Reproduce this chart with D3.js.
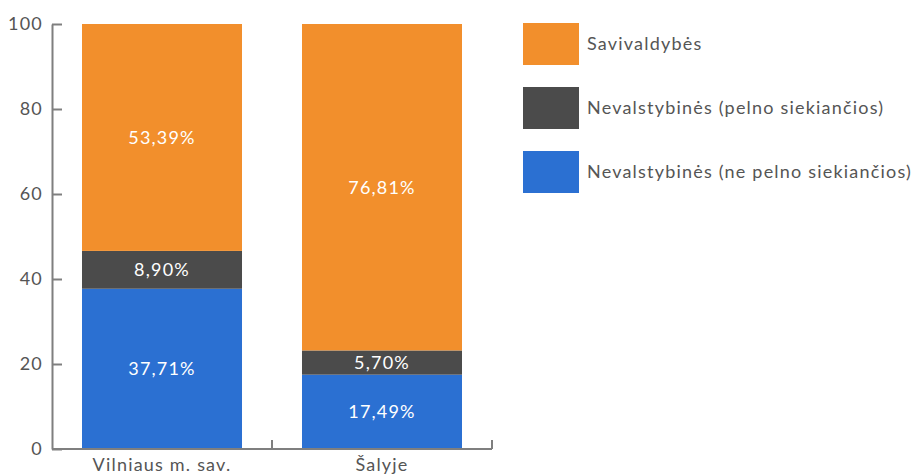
<!DOCTYPE html>
<html>
<head>
<meta charset="utf-8">
<script src="https://cdn.jsdelivr.net/npm/d3@7"></script>
<style>
  body { margin: 0; background: #fff; font-family: Lato, "Open Sans", sans-serif; }
  text { letter-spacing: 1.2px; }
</style>
</head>
<body>
<div id="chart-area"></div>
<script>
// data
var categories = ["Vilniaus m. sav.", "Šalyje"];
var seriesNames = ["Nevalstybinės (ne pelno siekiančios)", "Nevalstybinės (pelno siekiančios)", "Savivaldybės"];
var nePelno = [37.71, 17.49];
var pelno = [8.90, 5.70];
var savivaldybes = [53.39, 76.81];
var yTicks = [0, 20, 40, 60, 80, 100];

var colors = ["#2b70d2", "#4b4b4b", "#f28f2c"];

var width = 922, height = 474;
var margin = {left: 52, top: 24, bottom: 25};
var plotRight = 492;

var svg = d3.select("#chart-area")
    .append("svg")
      .attr("width", width)
      .attr("height", height);

var rows = categories.map(function(c, i){
    return {cat: c, s0: nePelno[i], s1: pelno[i], s2: savivaldybes[i]};
});
var stack = d3.stack().keys(["s0", "s1", "s2"]);
var layers = stack(rows);

var x = d3.scaleBand()
    .domain(categories)
    .range([margin.left, plotRight])
    .paddingInner(0.2727)
    .paddingOuter(0.1364);

var y = d3.scaleLinear()
    .domain([0, 100])
    .range([height - margin.bottom, margin.top]);

// bars
layers.forEach(function(layer, li){
    svg.append("g")
      .selectAll("rect")
      .data(layer)
      .enter()
      .append("rect")
        .attr("x", function(d){ return x(d.data.cat); })
        .attr("y", function(d){ return y(d[1]); })
        .attr("width", x.bandwidth())
        .attr("height", function(d){ return y(d[0]) - y(d[1]); })
        .attr("fill", colors[li]);

    svg.append("g")
      .selectAll("text")
      .data(layer)
      .enter()
      .append("text")
        .attr("x", function(d){ return x(d.data.cat) + x.bandwidth()/2; })
        .attr("y", function(d){ return (y(d[0]) + y(d[1]))/2; })
        .attr("dy", "0.36em")
        .attr("text-anchor", "middle")
        .attr("fill", "#fff")
        .attr("font-size", "18px")
        .text(function(d){ return (d[1]-d[0]).toFixed(2).replace(".", ",") + "%"; });
});

// y axis
var yAxis = d3.axisRight(y).tickValues(yTicks).tickSize(10).tickSizeOuter(0);
var gy = svg.append("g")
    .attr("transform", "translate(" + margin.left + ",0)")
    .call(yAxis);
gy.select(".domain").attr("stroke", "#7f7f7f").attr("stroke-width", 2);
gy.selectAll(".tick line").attr("stroke", "#7f7f7f").attr("stroke-width", 2);
gy.selectAll(".tick text")
    .attr("x", -9)
    .attr("text-anchor", "end")
    .attr("fill", "#555")
    .attr("font-size", "18px")
    .attr("font-family", "Lato, sans-serif");

// x axis
var gx = svg.append("g")
    .attr("transform", "translate(0," + y(0) + ")");
gx.append("line")
    .attr("x1", margin.left).attr("x2", plotRight)
    .attr("stroke", "#7f7f7f").attr("stroke-width", 2);
var sepTicks = [x.step() + margin.left, plotRight];
gx.selectAll("line.sep")
    .data(sepTicks)
    .enter()
    .append("line")
      .attr("class", "sep")
      .attr("x1", function(d){ return d; }).attr("x2", function(d){ return d; })
      .attr("y1", 0).attr("y2", -9)
      .attr("stroke", "#7f7f7f").attr("stroke-width", 2);
gx.selectAll("text")
    .data(categories)
    .enter()
    .append("text")
      .attr("x", function(d){ return x(d) + x.bandwidth()/2; })
      .attr("y", 22)
      .attr("text-anchor", "middle")
      .attr("fill", "#555")
      .attr("font-size", "18px")
      .text(function(d){ return d; });

// legend
var legendOrder = [2, 1, 0];
var legend = svg.append("g").attr("transform", "translate(523,23)");
legend.selectAll("g")
    .data(legendOrder)
    .enter()
    .append("g")
      .attr("transform", function(d, i){ return "translate(0," + (i*64) + ")"; })
      .each(function(d){
          var g = d3.select(this);
          g.append("rect").attr("width", 56).attr("height", 42).attr("fill", colors[d]);
          g.append("text")
            .attr("x", 64).attr("y", 21).attr("dy", "0.36em")
            .attr("fill", "#555")
            .attr("font-size", "18px")
            .text(seriesNames[d]);
      });
</script>
</body>
</html>
